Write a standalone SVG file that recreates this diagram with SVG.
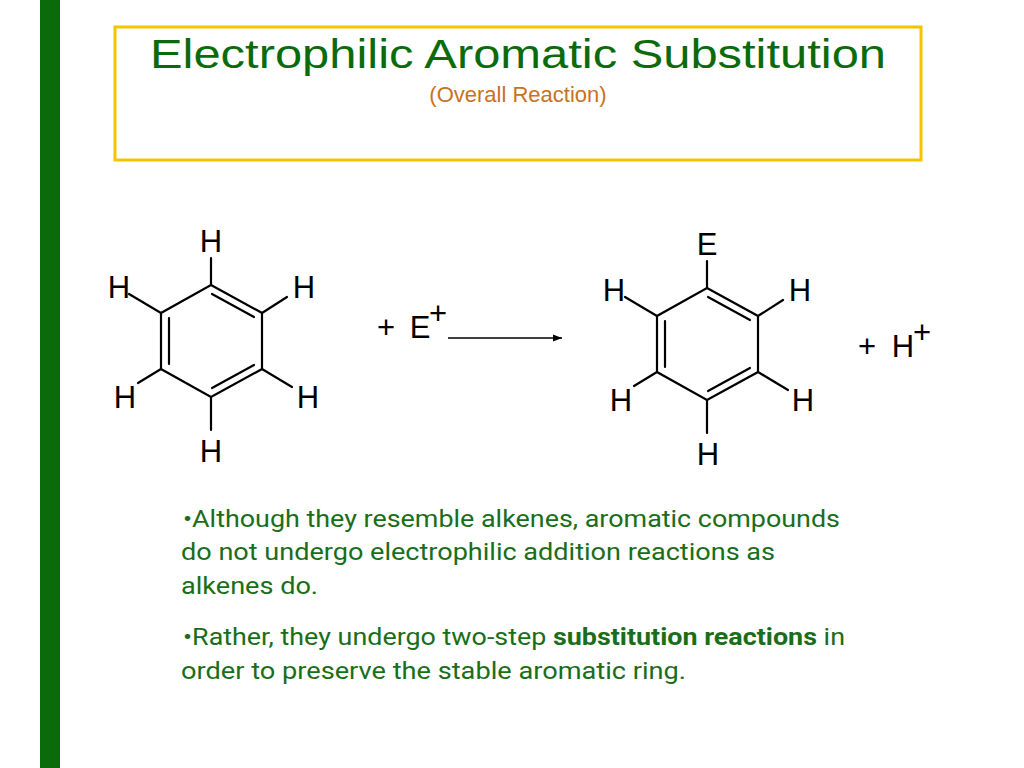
<svg xmlns="http://www.w3.org/2000/svg" width="1024" height="768" viewBox="0 0 1024 768">
<defs>
<style>
.b{stroke:#000;stroke-width:2.2;fill:none;stroke-linecap:round}
.a{font-family:"Liberation Sans",Arial,sans-serif;font-size:31px;fill:#000;text-anchor:middle}
.t{font-family:Roboto,"Liberation Sans",sans-serif;font-size:23px;fill:#1a6e1a}
</style>
<marker id="ah" viewBox="0 0 10 10" refX="10" refY="5" markerWidth="12" markerHeight="9" markerUnits="userSpaceOnUse" orient="auto"><path d="M0,1 L10,5 L0,9 Z" fill="#000"/></marker>
<g id="ring">
<path class="b" d="M211,285 L262,313 L262,369 L211,397 L161,369 L161,313 Z"/>
<path class="b" d="M212,294 L254,317 M169,318 L169,364 M212,388 L254,365"/>
<path class="b" d="M211,285 L211,258 M161,313 L129,294 M262,313 L287,297 M161,369 L138,383 M262,369 L292,387 M211,397 L211,430"/>
</g>
</defs>
<rect x="40" y="0" width="20" height="768" fill="#0b6b0b"/>
<g id="title">
<rect x="115" y="27" width="806" height="133" fill="#fff" stroke="#f5c400" stroke-width="3"/>
<text x="518" y="68" text-anchor="middle" font-family="'Liberation Sans',Arial,sans-serif" font-size="40" fill="#0b6b0b" textLength="736" lengthAdjust="spacingAndGlyphs">Electrophilic Aromatic Substitution</text>
<text x="518" y="102" text-anchor="middle" font-family="'Liberation Sans',Arial,sans-serif" font-size="22" fill="#c8721e">(Overall Reaction)</text>
</g>
<g id="benzene">
<use href="#ring"/>
<text class="a" x="211" y="252">H</text>
<text class="a" x="119" y="298">H</text>
<text class="a" x="304" y="298">H</text>
<text class="a" x="125" y="408">H</text>
<text class="a" x="308" y="408">H</text>
<text class="a" x="211" y="462">H</text>
</g>
<g id="reagent">
<text class="a" x="386" y="338">+</text>
<text class="a" x="420" y="338">E</text>
<text class="a" x="438" y="324" font-size="22">+</text>
</g>
<g id="connectors">
<line x1="448" y1="338" x2="562" y2="338" stroke="#000" stroke-width="1.6" marker-end="url(#ah)"/>
</g>
<g id="product">
<use href="#ring" transform="translate(496,3)"/>
<text class="a" x="707" y="255">E</text>
<text class="a" x="614" y="301">H</text>
<text class="a" x="800" y="301">H</text>
<text class="a" x="621" y="411">H</text>
<text class="a" x="803" y="411">H</text>
<text class="a" x="708" y="465">H</text>
</g>
<g id="byproduct">
<text class="a" x="867" y="357">+</text>
<text class="a" x="903" y="357">H</text>
<text class="a" x="922" y="343" font-size="22">+</text>
</g>
<g id="bullets">
<text class="t" x="183" y="527" textLength="657" lengthAdjust="spacingAndGlyphs">•Although they resemble alkenes, aromatic compounds</text>
<text class="t" x="181" y="560" textLength="594" lengthAdjust="spacingAndGlyphs">do not undergo electrophilic addition reactions as</text>
<text class="t" x="181" y="594" textLength="137" lengthAdjust="spacingAndGlyphs">alkenes do.</text>
<text class="t" x="183" y="645" textLength="662" lengthAdjust="spacingAndGlyphs">•Rather, they undergo two-step <tspan font-weight="bold">substitution reactions</tspan> in</text>
<text class="t" x="181" y="679" textLength="505" lengthAdjust="spacingAndGlyphs">order to preserve the stable aromatic ring.</text>
</g>
</svg>
